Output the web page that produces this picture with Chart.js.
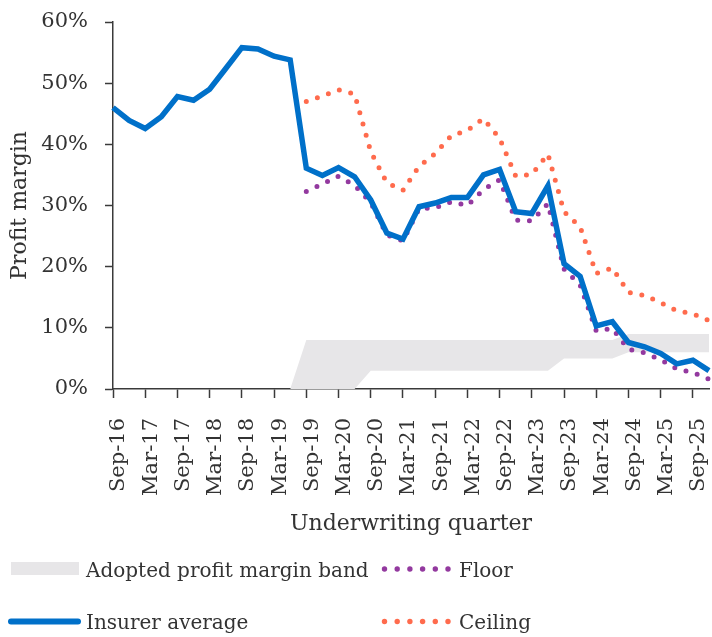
<!DOCTYPE html>
<html>
<head>
<meta charset="utf-8">
<script src="https://cdn.jsdelivr.net/npm/chart.js@4.4.1/dist/chart.umd.min.js"></script>
<style>
  html, body { margin: 0; padding: 0; background: #ffffff; }
  #wrap { position: relative; width: 712px; height: 637px; overflow: hidden; }
  #c { position: absolute; left: 0; top: 0; }
  #legend { position: absolute; left: 0; top: 0; width: 712px; height: 637px; pointer-events: none; }
  #legend svg { position: absolute; left: 0; top: 0; }
  .lt { position: absolute; font-family: 'DejaVu Serif', serif; font-size: 20px; line-height: 24px; color: #333333; white-space: nowrap; }
</style>
</head>
<body>
<div id="wrap">
  <canvas id="c" width="712" height="637"></canvas>
  <div id="legend"></div>
</div>
<script>
// ---------- data ----------
const quarters = [
  "Sep-16","Dec-16","Mar-17","Jun-17","Sep-17","Dec-17","Mar-18","Jun-18",
  "Sep-18","Dec-18","Mar-19","Jun-19","Sep-19","Dec-19","Mar-20","Jun-20",
  "Sep-20","Dec-20","Mar-21","Jun-21","Sep-21","Dec-21","Mar-22","Jun-22",
  "Sep-22","Dec-22","Mar-23","Jun-23","Sep-23","Dec-23","Mar-24","Jun-24",
  "Sep-24","Dec-24","Mar-25","Jun-25","Sep-25","Dec-25"
];

const insurerAverage = [
  46.0, 43.9, 42.6, 44.5, 47.8, 47.2, 49.0, 52.4,
  55.8, 55.6, 54.4, 53.8, 36.1, 34.9, 36.2, 34.7,
  30.9, 25.5, 24.5, 29.8, 30.4, 31.3, 31.3, 35.0,
  35.9, 29.0, 28.7, 33.2, 20.5, 18.4, 10.3, 11.0,
  7.6, 6.9, 5.8, 4.1, 4.7, 3.0
];

const floorValues = [
  null, null, null, null, null, null, null, null,
  null, null, null, null, 32.3, 33.5, 34.8, 33.3,
  30.5, 25.2, 24.2, 29.5, 29.6, 30.6, 30.0, 32.6,
  34.2, 27.6, 27.5, 30.3, 19.6, 17.0, 9.5, 9.9,
  6.5, 5.9, 4.8, 3.3, 2.7, 1.6
];

const ceilingValues = [
  null, null, null, null, null, null, null, null,
  null, null, null, null, 47.0, 47.9, 48.9, 48.2,
  38.8, 33.7, 32.5, 36.4, 38.5, 41.4, 42.3, 44.2,
  41.0, 34.8, 35.1, 38.4, 29.0, 26.5, 18.9, 19.8,
  15.8, 15.3, 14.1, 12.8, 12.3, 11.2
];

const bandLower = [
  null, null, null, null, null, null, null, null,
  null, null, null, 0, 0, 0, 0, 0,
  3, 3, 3, 3, 3, 3, 3, 3,
  3, 3, 3, 3, 5, 5, 5, 5,
  6, 6, 6, 6, 6, 6
];

const bandUpper = [
  null, null, null, null, null, null, null, null,
  null, null, null, 0, 8, 8, 8, 8,
  8, 8, 8, 8, 8, 8, 8, 8,
  8, 8, 8, 8, 8, 8, 8, 8,
  9, 9, 9, 9, 9, 9
];

const yTickValues = [0, 10, 20, 30, 40, 50, 60];
const seriesNames = ["Adopted profit margin band", "Floor", "Insurer average", "Ceiling"];

// ---------- styles ----------
const FONT = "'DejaVu Serif', serif";
const TEXT = '#333333';
const AXIS = '#3a3a3a';
const BLUE = '#0070C9';
const PURPLE = '#93399F';
const ORANGE = '#FF6B4D';
const BAND = '#E7E6E8';
const DOT_GAP = 11.7;

const ctx = document.getElementById('c').getContext('2d');
new Chart(ctx, {
  type: 'line',
  data: {
    labels: quarters,
    datasets: [
      { label: 'band-lower', data: bandLower, borderColor: 'rgba(0,0,0,0)', borderWidth: 0,
        pointRadius: 0, fill: false, order: 5 },
      { label: seriesNames[0], data: bandUpper, borderColor: 'rgba(0,0,0,0)', borderWidth: 0,
        pointRadius: 0, fill: '-1', backgroundColor: BAND, order: 4 },
      { label: seriesNames[1], data: floorValues, borderColor: PURPLE, borderWidth: 5,
        borderDash: [0, DOT_GAP], borderCapStyle: 'round', pointRadius: 0, fill: false, order: 2 },
      { label: seriesNames[3], data: ceilingValues, borderColor: ORANGE, borderWidth: 5,
        borderDash: [0, DOT_GAP], borderCapStyle: 'round', pointRadius: 0, fill: false, order: 1 },
      { label: seriesNames[2], data: insurerAverage, borderColor: BLUE, borderWidth: 5.5,
        pointRadius: 0, fill: false, order: 0 }
    ]
  },
  options: {
    responsive: false,
    animation: false,
    devicePixelRatio: 1,
    layout: { padding: { left: 0, top: 22, right: 3, bottom: 100 } },
    elements: { line: { tension: 0 } },
    plugins: { legend: { display: false }, tooltip: { enabled: false } },
    scales: {
      x: {
        type: 'category',
        offset: false,
        grid: {
          drawOnChartArea: false, drawTicks: true, tickLength: 9, tickWidth: 1.5,
          tickColor: (c) => (c.index % 2 === 0 ? AXIS : 'rgba(0,0,0,0)')
        },
        border: { display: true, color: AXIS, width: 1.5 },
        ticks: {
          autoSkip: false, maxRotation: 90, minRotation: 90, padding: 20, labelOffset: 6,
          font: { family: FONT, size: 21 }, color: TEXT,
          callback: (v, i) => (i % 2 === 0 ? quarters[i] : '')
        },
        title: { display: true, text: 'Underwriting quarter', font: { family: FONT, size: 22 },
          color: TEXT, padding: { top: 0, bottom: 0 } },
        afterFit: (s) => { s.height = 148; s.paddingLeft = 0; s.paddingRight = 0; }
      },
      y: {
        min: 0, max: 60,
        afterBuildTicks: (s) => { s.ticks = yTickValues.map(v => ({ value: v })); },
        grid: { drawOnChartArea: false, drawTicks: true, tickLength: 8, tickWidth: 1.5, tickColor: AXIS },
        border: { display: true, color: AXIS, width: 1.5 },
        ticks: { padding: 17, font: { family: FONT, size: 21 }, color: TEXT,
          callback: (v) => v + '%' },
        title: { display: true, text: 'Profit margin', font: { family: FONT, size: 22 },
          color: TEXT, padding: { top: 7.5, bottom: 0 } },
        afterFit: (s) => { s.width = 113; s.paddingTop = 0; s.paddingBottom = 0; }
      }
    }
  }
});

// ---------- legend (HTML) ----------
(function buildLegend() {
  const L = document.getElementById('legend');
  const NS = 'http://www.w3.org/2000/svg';
  const svg = document.createElementNS(NS, 'svg');
  svg.setAttribute('width', '712'); svg.setAttribute('height', '637');
  const add = (tag, attrs) => { const e = document.createElementNS(NS, tag); for (const k in attrs) e.setAttribute(k, attrs[k]); svg.appendChild(e); };
  add('rect', { x: 11, y: 562, width: 68, height: 13, fill: BAND });
  add('line', { x1: 11, y1: 621.5, x2: 78, y2: 621.5, stroke: BLUE, 'stroke-width': 6, 'stroke-linecap': 'round' });
  for (let k = 0; k < 6; k++) {
    add('circle', { cx: 384.5 + k * 12.7, cy: 569, r: 2.7, fill: PURPLE });
    add('circle', { cx: 384.5 + k * 12.7, cy: 621.5, r: 2.7, fill: ORANGE });
  }
  L.appendChild(svg);
  const txt = (s, x, y) => { const d = document.createElement('div'); d.className = 'lt'; d.textContent = s; d.style.left = x + 'px'; d.style.top = y + 'px'; L.appendChild(d); };
  txt(seriesNames[0], 86, 557.5);
  txt(seriesNames[1], 459, 557.5);
  txt(seriesNames[2], 86, 610);
  txt(seriesNames[3], 459, 610);
})();
</script>
</body>
</html>
